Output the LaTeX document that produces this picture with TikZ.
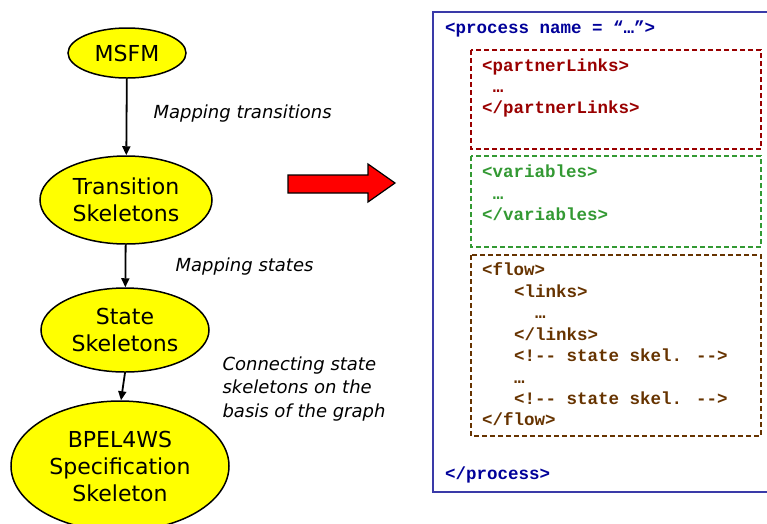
\documentclass[tikz,border=0pt]{standalone}
\usepackage{fontspec}
\usetikzlibrary{shapes.geometric,arrows.meta}
\newfontfamily\comicfont{DejaVu Sans}
\newfontfamily\codefont{Liberation Mono}
\definecolor{procblue}{HTML}{000099}
\definecolor{boxblue}{HTML}{3A3AA8}
\definecolor{plred}{HTML}{990000}
\definecolor{vargreen}{HTML}{339933}
\definecolor{flowbrown}{HTML}{663300}
\definecolor{ellyellow}{HTML}{FFFF00}
\tikzset{
  ell/.style={ellipse, draw=black, line width=1.5pt, fill=ellyellow, inner sep=0pt,
    align=center, font=\comicfont\fontsize{22}{27}\selectfont},
  lbl/.style={anchor=base west, font=\comicfont\itshape\fontsize{18}{24}\selectfont},
  code/.style={anchor=base west, inner sep=0pt, font=\codefont\bfseries\fontsize{17.5}{21}\selectfont},
  conn/.style={-{Triangle[length=9pt,width=8pt]}, line width=1.8pt},
  dbox/.style={line width=2.2pt, dash pattern=on 5pt off 3pt}
}
\begin{document}
\begin{tikzpicture}[x=1pt,y=-1pt]
\useasboundingbox (0,0) rectangle (767,523);
% left graph
\node[ell, minimum width=118, minimum height=50] (msfm) at (127,53) {MSFM};
\node[ell, minimum width=172, minimum height=88] (trans) at (126,200) {Transition\\Skeletons};
\node[ell, minimum width=168, minimum height=84] (state) at (125,330) {State\\Skeletons};
\node[ell, minimum width=218, minimum height=130] (bpel) at (120,466) {BPEL4WS\\Specification\\Skeleton};
\draw[conn] (msfm) -- (trans);
\draw[conn] (trans) -- (state);
\draw[conn] (state.south) -- ([xshift=1pt]bpel.north);
\node[lbl] (l1) at (150,118) {Mapping transitions};
\node[lbl] (l2) at (172,271) {Mapping states};
\node[lbl] (l3) at (219,370) {Connecting state};
\node[lbl] (l4) at (219,393) {skeletons on the};
\node[lbl] (l5) at (219,417) {basis of the graph};
% big red arrow
\draw[fill=red, line width=1.2pt] (288,175) -- (368,175) -- (368,164) -- (395,183) -- (368,202) -- (368,193) -- (288,193) -- cycle;
% right code box
\draw[boxblue, line width=2pt] (433,12) rectangle (780,492);
\draw[plred, dbox] (471,50) rectangle (761,149);
\draw[vargreen, dbox] (471,156) rectangle (761,247);
\draw[flowbrown, dbox] (471,255) rectangle (761,436);
\node[code, procblue] (p1) at (445,33) {<process name = “…”>};
\node[code, plred] (a1) at (482,71) {<partnerLinks>};
\node[code, plred] (a2) at (492.6,92) {…};
\node[code, plred] (a3) at (482,113) {</partnerLinks>};
\node[code, vargreen] (b1) at (482,177) {<variables>};
\node[code, vargreen] (b2) at (492.6,199) {…};
\node[code, vargreen] (b3) at (482,220) {</variables>};
\node[code, flowbrown] (c1) at (482,275) {<flow>};
\node[code, flowbrown] (c2) at (514,297) {<links>};
\node[code, flowbrown] (c3) at (535,318) {…};
\node[code, flowbrown] (c4) at (514,340) {</links>};
\node[code, flowbrown] (c5) at (514,361) {<!-- state skel. -->};
\node[code, flowbrown] (c6) at (514,383) {…};
\node[code, flowbrown] (c7) at (514,404) {<!-- state skel. -->};
\node[code, flowbrown] (c8) at (482,425) {</flow>};
\node[code, procblue] (p2) at (445,479) {</process>};
\end{tikzpicture}
\end{document}
